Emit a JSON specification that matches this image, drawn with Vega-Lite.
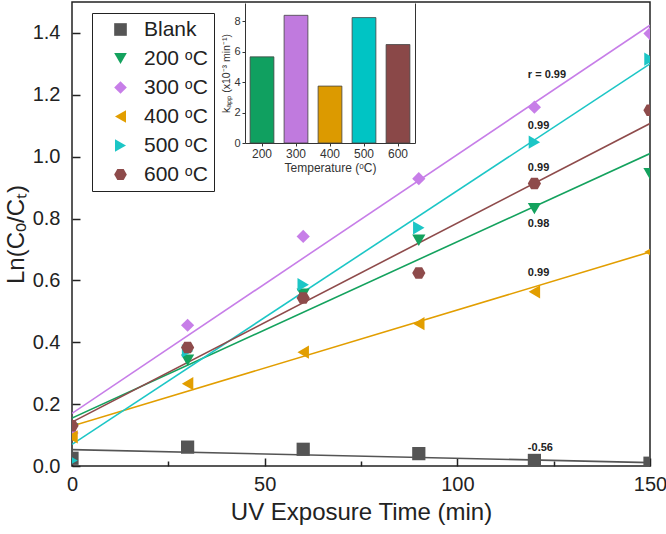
{
  "$schema": "https://vega.github.io/schema/vega-lite/v6.json",
  "width": 578,
  "height": 464,
  "autosize": "none",
  "padding": {"left": 72, "top": 2, "right": 16, "bottom": 68},
  "background": "white",
  "config": {
    "font": "Liberation Sans",
    "view": {"stroke": "#222", "strokeWidth": 1.5}
  },
  "datasets": {
    "points": [
      {"series": "Blank", "t": 0, "v": 0.025},
      {"series": "Blank", "t": 30, "v": 0.061},
      {"series": "Blank", "t": 60, "v": 0.054},
      {"series": "Blank", "t": 90, "v": 0.040},
      {"series": "Blank", "t": 120, "v": 0.018},
      {"series": "Blank", "t": 150, "v": 0.009},
      {"series": "200 ᵒC", "t": 0, "v": 0.12},
      {"series": "200 ᵒC", "t": 30, "v": 0.342},
      {"series": "200 ᵒC", "t": 60, "v": 0.555},
      {"series": "200 ᵒC", "t": 90, "v": 0.73},
      {"series": "200 ᵒC", "t": 120, "v": 0.832},
      {"series": "200 ᵒC", "t": 150, "v": 0.945},
      {"series": "300 ᵒC", "t": 0, "v": 0.107},
      {"series": "300 ᵒC", "t": 30, "v": 0.455},
      {"series": "300 ᵒC", "t": 60, "v": 0.742},
      {"series": "300 ᵒC", "t": 90, "v": 0.929},
      {"series": "300 ᵒC", "t": 120, "v": 1.16},
      {"series": "300 ᵒC", "t": 150, "v": 1.398},
      {"series": "400 ᵒC", "t": 0, "v": 0.094},
      {"series": "400 ᵒC", "t": 30, "v": 0.266},
      {"series": "400 ᵒC", "t": 60, "v": 0.368},
      {"series": "400 ᵒC", "t": 90, "v": 0.46},
      {"series": "400 ᵒC", "t": 120, "v": 0.563},
      {"series": "400 ᵒC", "t": 150, "v": 0.692},
      {"series": "500 ᵒC", "t": 0, "v": 0.018},
      {"series": "500 ᵒC", "t": 30, "v": 0.372},
      {"series": "500 ᵒC", "t": 60, "v": 0.586},
      {"series": "500 ᵒC", "t": 90, "v": 0.77},
      {"series": "500 ᵒC", "t": 120, "v": 1.047},
      {"series": "500 ᵒC", "t": 150, "v": 1.315},
      {"series": "600 ᵒC", "t": 0, "v": 0.13},
      {"series": "600 ᵒC", "t": 30, "v": 0.383},
      {"series": "600 ᵒC", "t": 60, "v": 0.543},
      {"series": "600 ᵒC", "t": 90, "v": 0.624},
      {"series": "600 ᵒC", "t": 120, "v": 0.913},
      {"series": "600 ᵒC", "t": 150, "v": 1.15}
    ],
    "fits": [
      {"series": "Blank", "t": 0, "v": 0.053},
      {"series": "Blank", "t": 150, "v": 0.011},
      {"series": "200 ᵒC", "t": 0, "v": 0.155},
      {"series": "200 ᵒC", "t": 150, "v": 1.01},
      {"series": "300 ᵒC", "t": 0, "v": 0.17},
      {"series": "300 ᵒC", "t": 150, "v": 1.425},
      {"series": "400 ᵒC", "t": 0, "v": 0.129},
      {"series": "400 ᵒC", "t": 150, "v": 0.692},
      {"series": "500 ᵒC", "t": 0, "v": 0.07},
      {"series": "500 ᵒC", "t": 150, "v": 1.30},
      {"series": "600 ᵒC", "t": 0, "v": 0.142},
      {"series": "600 ᵒC", "t": 150, "v": 1.107}
    ],
    "labels": [
      {"t": 118.3, "v": 1.263, "text": "r = 0.99"},
      {"t": 118.3, "v": 1.10, "text": "0.99"},
      {"t": 118.3, "v": 0.963, "text": "0.99"},
      {"t": 118.3, "v": 0.781, "text": "0.98"},
      {"t": 118.3, "v": 0.623, "text": "0.99"},
      {"t": 118.3, "v": 0.057, "text": "-0.56"}
    ],
    "kapp": [
      {"temp": "200", "k": 5.66},
      {"temp": "300", "k": 8.39},
      {"temp": "400", "k": 3.74},
      {"temp": "500", "k": 8.24},
      {"temp": "600", "k": 6.47}
    ]
  },
  "layer": [
    {
      "layer": [
        {
          "data": {"name": "fits"},
          "mark": {"type": "line", "strokeWidth": 1.6, "clip": true},
          "encoding": {
            "x": {
              "field": "t", "type": "quantitative",
              "scale": {"domain": [0, 150], "nice": false},
              "axis": {
                "values": [0, 25, 50, 75, 100, 125, 150],
                "labelExpr": "datum.value % 50 == 0 ? datum.label : ''",
                "tickSize": {"condition": {"test": "datum.value % 50 == 0", "value": -8}, "value": -5},
                "tickColor": "#222", "tickWidth": 1.5,
                "labelPadding": 16, "labelFontSize": 20, "labelColor": "#222",
                "labelFlush": false, "labelOverlap": false,
                "domain": false, "grid": false,
                "title": "UV Exposure Time (min)", "titleFontSize": 24,
                "titleFontWeight": "normal", "titleColor": "#222", "titlePadding": 3
              }
            },
            "y": {
              "field": "v", "type": "quantitative",
              "scale": {"domain": [0, 1.5], "nice": false},
              "axis": {
                "values": [0, 0.1, 0.2, 0.3, 0.4, 0.5, 0.6, 0.7, 0.8, 0.9, 1.0, 1.1, 1.2, 1.3, 1.4],
                "labelExpr": "round(datum.value*10) % 2 == 0 ? format(datum.value, '.1f') : ''",
                "tickSize": {"condition": {"test": "round(datum.value*10) % 2 == 0", "value": -8}, "value": -5},
                "tickColor": "#222", "tickWidth": 1.5,
                "labelPadding": 20, "labelFontSize": 20, "labelColor": "#222",
                "labelFlush": false, "labelOverlap": false,
                "domain": false, "grid": false,
                "title": "Ln(Cₒ/Cₜ)", "titleFontSize": 24,
                "titleFontWeight": "normal", "titleColor": "#222", "titlePadding": 4
              }
            },
            "detail": {"field": "series"},
            "stroke": {
              "field": "series", "type": "nominal",
              "scale": {
                "domain": ["Blank", "200 ᵒC", "300 ᵒC", "400 ᵒC", "500 ᵒC", "600 ᵒC"],
                "range": ["#555555", "#14a25e", "#c77ee8", "#e29e00", "#1cc6c6", "#8e4b4b"]
              },
              "legend": null
            }
          }
        },
        {
          "data": {"name": "points"},
          "mark": {"type": "point", "filled": true, "opacity": 1, "size": 175, "clip": true},
          "encoding": {
            "x": {"field": "t", "type": "quantitative"},
            "y": {"field": "v", "type": "quantitative"},
            "color": {
              "field": "series", "type": "nominal",
              "scale": {
                "domain": ["Blank", "200 ᵒC", "300 ᵒC", "400 ᵒC", "500 ᵒC", "600 ᵒC"],
                "range": ["#555555", "#14a25e", "#c77ee8", "#e29e00", "#1cc6c6", "#8e4b4b"]
              },
              "legend": {
                "orient": "none", "legendX": 20, "legendY": 11,
                "title": null, "strokeColor": "#222", "fillColor": "white",
                "padding": 6, "symbolOffset": 12, "labelOffset": 13,
                "rowPadding": 7, "labelFontSize": 21, "labelColor": "#222",
                "symbolSize": 160, "symbolStrokeWidth": 0, "symbolOpacity": 1,
                "encode": {
                  "symbols": {
                    "update": {
                      "shape": {"signal": "datum.value == 'Blank' ? 'square' : datum.value == '200 ᵒC' ? 'triangle-down' : datum.value == '300 ᵒC' ? 'diamond' : datum.value == '400 ᵒC' ? 'triangle-left' : datum.value == '500 ᵒC' ? 'triangle-right' : 'M-1,0L-0.5,-0.866L0.5,-0.866L1,0L0.5,0.866L-0.5,0.866Z'"}
                    }
                  }
                }
              }
            },
            "shape": {
              "field": "series", "type": "nominal",
              "scale": {
                "domain": ["Blank", "200 ᵒC", "300 ᵒC", "400 ᵒC", "500 ᵒC", "600 ᵒC"],
                "range": ["square", "triangle-down", "diamond", "triangle-left", "triangle-right", "M-1,0L-0.5,-0.866L0.5,-0.866L1,0L0.5,0.866L-0.5,0.866Z"]
              },
              "legend": null
            }
          }
        },
        {
          "data": {"name": "labels"},
          "mark": {"type": "text", "align": "left", "baseline": "middle", "fontSize": 11, "fontWeight": "bold", "color": "#222"},
          "encoding": {
            "x": {"field": "t", "type": "quantitative"},
            "y": {"field": "v", "type": "quantitative"},
            "text": {"field": "text"}
          }
        }
      ]
    },
    {
      "data": {"name": "kapp"},
      "layer": [
        {
          "mark": {"type": "bar", "stroke": "#444", "strokeWidth": 0.8},
          "encoding": {
            "x": {
              "field": "temp", "type": "ordinal",
              "scale": {"range": [173, 343], "paddingInner": 0.3, "paddingOuter": 0.15},
              "axis": {
                "orient": "bottom", "offset": -323, "labelAngle": 0,
                "labelFontSize": 12, "labelColor": "#333", "labelPadding": 2,
                "tickSize": 3, "tickColor": "#333", "domainColor": "#333",
                "title": "Temperature (ᵒC)", "titleFontSize": 12,
                "titleFontWeight": "normal", "titleColor": "#333", "titlePadding": 3
              }
            },
            "y": {
              "field": "k", "type": "quantitative",
              "scale": {"domain": [0, 9.2], "nice": false, "range": [141, 1]},
              "axis": {
                "orient": "left", "offset": -173, "values": [0, 2, 4, 6, 8],
                "grid": false, "labelFontSize": 11, "labelColor": "#333", "labelPadding": 2,
                "tickSize": 3, "tickColor": "#333", "domainColor": "#333",
                "title": "kₐₚₚ (x10⁻³ min⁻¹)", "titleFontSize": 10.5,
                "titleFontWeight": "normal", "titleColor": "#333", "titlePadding": 2
              }
            },
            "color": {
              "field": "temp", "type": "nominal",
              "scale": {"range": ["#10a060", "#c07ade", "#dc9a00", "#00c4c4", "#8a4848"]},
              "legend": null
            }
          }
        },
        {
          "mark": {"type": "bar", "opacity": 0},
          "encoding": {
            "x": {"field": "temp", "type": "ordinal"},
            "y": {
              "field": "k", "type": "quantitative",
              "axis": {
                "orient": "right", "offset": -235, "ticks": false, "labels": false,
                "grid": false, "title": null, "domainColor": "#333"
              }
            }
          }
        }
      ],
      "resolve": {"axis": {"y": "independent"}}
    }
  ],
  "resolve": {
    "scale": {"x": "independent", "y": "independent", "color": "independent"},
    "axis": {"x": "independent", "y": "independent"}
  }
}
